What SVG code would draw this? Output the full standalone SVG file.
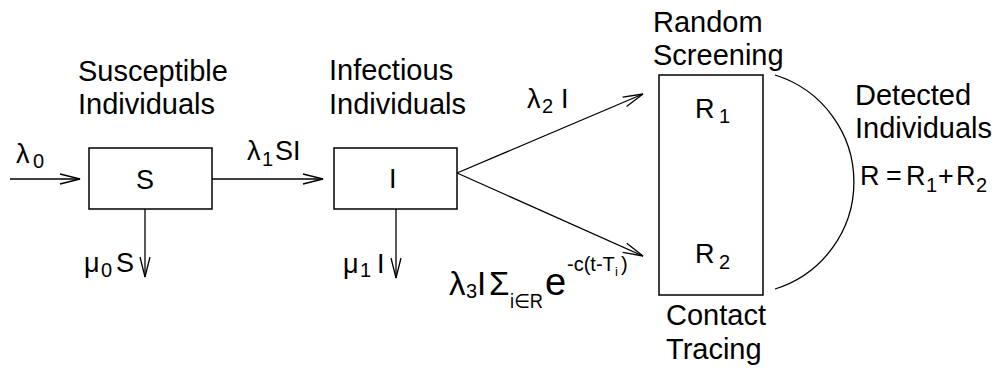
<svg xmlns="http://www.w3.org/2000/svg" width="1002" height="374" viewBox="0 0 1002 374">
<style>
text{font-family:"Liberation Sans",Arial,"DejaVu Sans",sans-serif;fill:#000}
.t{font-size:29px}
.l{font-size:27px}
.s{font-size:20px}
.box{fill:#fff;stroke:#000;stroke-width:1.5}
.c{fill:none;stroke:#000;stroke-width:1.3}
</style>
<defs>
<marker id="ah" markerUnits="userSpaceOnUse" viewBox="-22 -7 24 14" markerWidth="24" markerHeight="14" refX="0" refY="0" orient="auto">
<path d="M-20,-5 L0,0 L-20,5" fill="none" stroke="#000" stroke-width="1.3"/>
</marker>
</defs>
<g id="connectors">
<line class="c" x1="10" y1="179" x2="80" y2="179" marker-end="url(#ah)"/>
<line class="c" x1="212" y1="179" x2="323" y2="179" marker-end="url(#ah)"/>
<line class="c" x1="145" y1="209" x2="145" y2="277" marker-end="url(#ah)"/>
<line class="c" x1="396" y1="209" x2="396" y2="278" marker-end="url(#ah)"/>
<line class="c" x1="457" y1="173" x2="643" y2="94" marker-end="url(#ah)"/>
<line class="c" x1="457" y1="173" x2="643" y2="256" marker-end="url(#ah)"/>
<path class="c" d="M775,75 A112,112 0 0 1 775,289"/>
<text class="l" x="16" y="163">λ<tspan class="s" x="33" y="168">0</tspan></text>
<text class="l" x="247" y="160">λ<tspan class="s" x="262" y="166">1</tspan><tspan x="275" y="160">SI</tspan></text>
<text class="l" x="84" y="272">μ<tspan class="s" x="101" y="277">0</tspan><tspan x="116" y="272">S</tspan></text>
<text class="l" x="343" y="273">μ<tspan class="s" x="360" y="277">1</tspan><tspan x="377" y="273">I</tspan></text>
<text class="l" x="527" y="108">λ<tspan class="s" x="542" y="113">2</tspan><tspan x="561" y="108">I</tspan></text>
<g id="formula">
<text x="449" y="295" style="font-size:33px">λ</text>
<text x="466" y="298" style="font-size:20px">3</text>
<text x="477" y="295" style="font-size:33px">I</text>
<text x="489" y="295" style="font-size:33px">Σ</text>
<text x="510" y="308" style="font-size:20px" textLength="33" lengthAdjust="spacingAndGlyphs">i∈R</text>
<text x="545" y="295" style="font-size:38px">e</text>
<text x="567" y="271" style="font-size:20px">-c(t-T</text>
<text x="615" y="276" style="font-size:13px">i</text>
<text x="621" y="271" style="font-size:20px">)</text>
</g>
</g>
<g id="node-S">
<rect class="box" x="89" y="148" width="123" height="61"/>
<text class="l" x="136" y="189">S</text>
<text class="t" x="78" y="81">Susceptible</text>
<text class="t" x="78" y="114">Individuals</text>
</g>
<g id="node-I">
<rect class="box" x="334" y="148" width="123" height="61"/>
<text class="l" x="389" y="188">I</text>
<text class="t" x="329" y="80">Infectious</text>
<text class="t" x="329" y="114">Individuals</text>
</g>
<g id="node-R">
<rect class="box" x="659" y="75" width="104" height="220"/>
<text class="l" x="695" y="118">R<tspan class="s" x="719" y="123">1</tspan></text>
<text class="l" x="695" y="263">R<tspan class="s" x="719" y="269">2</tspan></text>
<text class="t" x="653" y="32">Random</text>
<text class="t" x="653" y="65">Screening</text>
<text class="t" x="666" y="325">Contact</text>
<text class="t" x="666" y="359">Tracing</text>
</g>
<g id="detected">
<text class="l" x="860" y="185">R<tspan x="886">=</tspan><tspan x="906">R</tspan><tspan class="s" x="926" y="192">1</tspan><tspan x="938" y="185">+</tspan><tspan x="956">R</tspan><tspan class="s" x="976" y="192">2</tspan></text>
<text class="t" x="855" y="105">Detected</text>
<text class="t" x="855" y="138">Individuals</text>
</g>
</svg>
